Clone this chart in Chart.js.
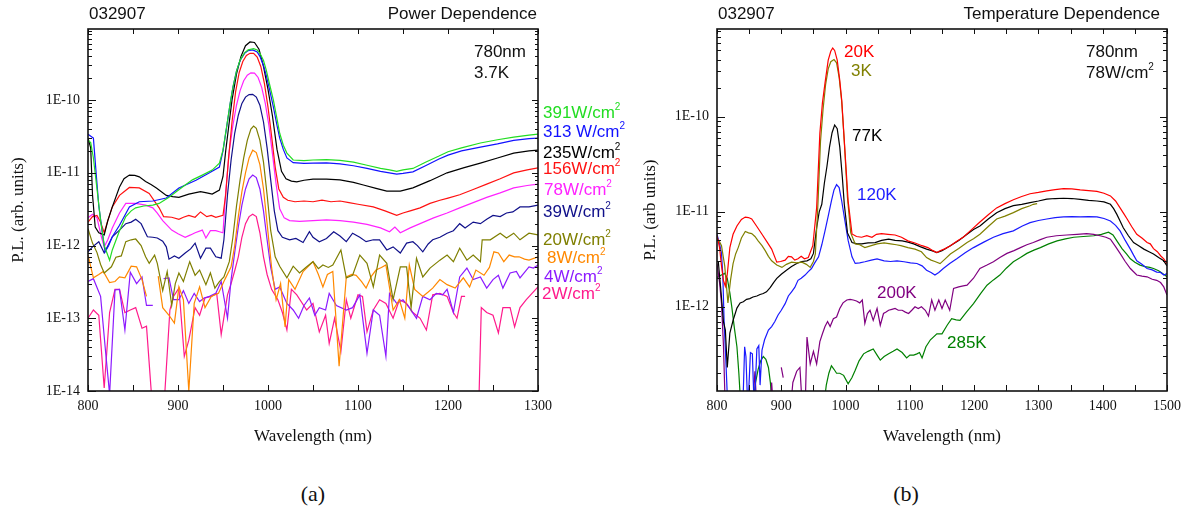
<!DOCTYPE html>
<html>
<head>
<meta charset="utf-8">
<title>PL power and temperature dependence</title>
<script src="https://cdn.jsdelivr.net/npm/chart.js@4.4.0/dist/chart.umd.min.js"></script>
<style>
  body { margin: 0; background: #fff; }
  #page { position: relative; width: 1194px; height: 519px; overflow: hidden; background: #fff; }
  canvas { position: absolute; top: 0; }
  .t { position: absolute; font: 17px "Liberation Sans", Arial, sans-serif; line-height: 20px; white-space: nowrap; color: #111; }
  .t sup { font-size: 10px; vertical-align: baseline; position: relative; top: -8px; }
  .cap { position: absolute; width: 60px; text-align: center; font: 22px "Liberation Serif", "Times New Roman", serif; line-height: 26px; color: #111; }
</style>
</head>
<body>
<div id="page">
  <canvas id="power" width="640" height="460" style="left:0"></canvas>
  <canvas id="temp" width="554" height="460" style="left:640px"></canvas>

  <div class="t" style="left:89px;top:4px">032907</div>
  <div class="t" style="right:657px;top:4px">Power Dependence</div>
  <div class="t" style="left:474px;top:42px">780nm</div>
  <div class="t" style="left:474px;top:63px">3.7K</div>

  <div class="t" style="left:543px;top:103px;color:#22dd22">391W/cm<sup>2</sup></div>
  <div class="t" style="left:543px;top:122px;color:#1111ff">313 W/cm<sup>2</sup></div>
  <div class="t" style="left:543px;top:143px;color:#000">235W/cm<sup>2</sup></div>
  <div class="t" style="left:543px;top:159px;color:#ff1111">156W/cm<sup>2</sup></div>
  <div class="t" style="left:544px;top:180px;color:#ff22ff">78W/cm<sup>2</sup></div>
  <div class="t" style="left:543px;top:202px;color:#10108a">39W/cm<sup>2</sup></div>
  <div class="t" style="left:543px;top:230px;color:#7f7f00">20W/cm<sup>2</sup></div>
  <div class="t" style="left:547px;top:248px;color:#ff8800">8W/cm<sup>2</sup></div>
  <div class="t" style="left:544px;top:267px;color:#8c1aff">4W/cm<sup>2</sup></div>
  <div class="t" style="left:542px;top:284px;color:#ff1a8c">2W/cm<sup>2</sup></div>

  <div class="t" style="left:718px;top:4px">032907</div>
  <div class="t" style="right:34px;top:4px">Temperature Dependence</div>
  <div class="t" style="left:1086px;top:42px">780nm</div>
  <div class="t" style="left:1086px;top:63px">78W/cm<sup>2</sup></div>

  <div class="t" style="left:844px;top:42px;color:#ff0000">20K</div>
  <div class="t" style="left:851px;top:61px;color:#808000">3K</div>
  <div class="t" style="left:852px;top:126px;color:#000">77K</div>
  <div class="t" style="left:857px;top:185px;color:#1a1aff">120K</div>
  <div class="t" style="left:877px;top:283px;color:#800080">200K</div>
  <div class="t" style="left:947px;top:333px;color:#008000">285K</div>

  <div class="cap" style="left:283px;top:481px">(a)</div>
  <div class="cap" style="left:876px;top:481px">(b)</div>
</div>

<script>
// ---- power series at 3.7 K: [wavelength nm, PL] ----
const p391 = [[800,2.8e-11],[803,2.6e-11],[806,1.6e-11],[810,6e-12],[814,2.2e-12],[818,1.0e-12],[824,6.3e-13],[827,8.7e-13],[835,1.6e-12],[842,2.5e-12],[848,3.0e-12],[853,3.3e-12],[862,3.5e-12],[872,3.6e-12],[879,3.8e-12],[890,4.6e-12],[898,5.5e-12],[905,6.4e-12],[916,8.0e-12],[927,9.3e-12],[938,1.09e-11],[946,1.36e-11],[950,2.05e-11],[954,4.3e-11],[958,9e-11],[961,1.5e-10],[965,2.5e-10],[969,3.55e-10],[974,4.5e-10],[978,4.9e-10],[984,5.1e-10],[988,4.9e-10],[991,4.4e-10],[995,3.5e-10],[998,2.6e-10],[1002,1.6e-10],[1006,1.0e-10],[1010,5.5e-11],[1013,3.5e-11],[1017,2.4e-11],[1021,1.87e-11],[1028,1.5e-11],[1040,1.47e-11],[1050,1.5e-11],[1065,1.52e-11],[1080,1.48e-11],[1095,1.4e-11],[1110,1.27e-11],[1125,1.15e-11],[1135,1.1e-11],[1143,1.05e-11],[1150,1.1e-11],[1161,1.15e-11],[1175,1.4e-11],[1190,1.7e-11],[1200,1.95e-11],[1215,2.2e-11],[1236,2.57e-11],[1255,2.85e-11],[1273,3.1e-11],[1290,3.3e-11],[1300,3.4e-11]];
const p313 = [[800,3.4e-11],[806,3.0e-11],[809,1.0e-11],[812,3.5e-12],[816,1.5e-12],[819,8.2e-13],[823,1.0e-12],[827,1.32e-12],[835,1.9e-12],[846,3.4e-12],[857,4.0e-12],[872,4.1e-12],[887,4.5e-12],[901,6.2e-12],[920,7.9e-12],[935,1.0e-11],[946,1.2e-11],[950,2.0e-11],[954,4.2e-11],[958,9e-11],[961,1.5e-10],[965,2.5e-10],[969,3.5e-10],[974,4.4e-10],[978,4.8e-10],[983,4.9e-10],[988,4.6e-10],[991,4.0e-10],[995,3.0e-10],[998,2.2e-10],[1002,1.35e-10],[1006,8e-11],[1010,4.5e-11],[1013,3.0e-11],[1017,2.1e-11],[1021,1.6e-11],[1028,1.38e-11],[1040,1.35e-11],[1050,1.36e-11],[1065,1.37e-11],[1080,1.33e-11],[1095,1.25e-11],[1110,1.15e-11],[1125,1.05e-11],[1143,9.6e-12],[1150,9.8e-12],[1161,1.03e-11],[1175,1.25e-11],[1190,1.55e-11],[1200,1.75e-11],[1215,2.0e-11],[1236,2.26e-11],[1255,2.5e-11],[1273,2.8e-11],[1290,2.95e-11],[1300,3.0e-11]];
const p235 = [[800,3.0e-11],[803,2.2e-11],[805,5e-12],[808,1.8e-12],[812,1.5e-12],[818,1.4e-12],[822,2.2e-12],[827,3.4e-12],[835,6.4e-12],[840,8.3e-12],[846,9.3e-12],[852,9.2e-12],[857,8.8e-12],[864,7.6e-12],[870,6.9e-12],[876,6.2e-12],[887,4.9e-12],[894,4.7e-12],[901,4.6e-12],[912,5.1e-12],[925,5.5e-12],[932,5.3e-12],[938,5.1e-12],[946,5.8e-12],[950,8.9e-12],[953,2.0e-11],[956,4e-11],[960,1.0e-10],[965,2.3e-10],[970,4.0e-10],[975,5.6e-10],[980,6.3e-10],[985,6.2e-10],[990,5.0e-10],[995,2.9e-10],[1000,1.4e-10],[1005,6e-11],[1010,2.1e-11],[1015,1.05e-11],[1020,8.3e-12],[1026,7.7e-12],[1032,7.5e-12],[1040,7.9e-12],[1050,8.2e-12],[1065,8.2e-12],[1080,8.0e-12],[1095,7.4e-12],[1106,6.8e-12],[1120,6.1e-12],[1132,5.6e-12],[1147,5.6e-12],[1161,6.2e-12],[1180,7.8e-12],[1199,1.0e-11],[1218,1.18e-11],[1236,1.36e-11],[1255,1.6e-11],[1273,1.87e-11],[1290,2.0e-11],[1300,2.05e-11]];
const p156 = [[800,2.1e-12],[805,2.5e-12],[810,2.6e-12],[814,2.1e-12],[818,1.5e-12],[822,2.2e-12],[827,3.4e-12],[835,4.9e-12],[846,6.3e-12],[857,6.2e-12],[868,5.2e-12],[879,3.3e-12],[884,2.5e-12],[893,2.45e-12],[901,2.3e-12],[906,2.45e-12],[912,2.6e-12],[919,2.45e-12],[925,2.9e-12],[932,2.5e-12],[937,2.6e-12],[942,2.45e-12],[950,2.6e-12],[953,5e-12],[956,1.5e-11],[960,5e-11],[964,1.3e-10],[968,2.4e-10],[972,3.4e-10],[976,4.1e-10],[980,4.4e-10],[984,4.4e-10],[988,3.9e-10],[992,2.9e-10],[996,1.7e-10],[1000,8e-11],[1004,3.2e-11],[1008,1.2e-11],[1012,6e-12],[1017,4.6e-12],[1022,4.2e-12],[1030,4.0e-12],[1040,4.1e-12],[1050,4.0e-12],[1060,4.2e-12],[1070,4.0e-12],[1080,4.1e-12],[1090,3.9e-12],[1100,3.7e-12],[1117,3.4e-12],[1130,3.0e-12],[1143,2.6e-12],[1150,2.8e-12],[1158,3.0e-12],[1169,3.3e-12],[1180,3.8e-12],[1191,4.2e-12],[1200,4.5e-12],[1213,5.0e-12],[1228,5.9e-12],[1243,7.0e-12],[1258,8.3e-12],[1273,1.0e-11],[1288,1.1e-11],[1300,1.17e-11]];
const p78 = [[800,2.4e-12],[805,2.7e-12],[810,2.4e-12],[815,1.3e-12],[818,9.6e-13],[822,1.2e-12],[827,1.74e-12],[835,2.8e-12],[842,3.8e-12],[853,3.8e-12],[864,3.6e-12],[872,3.3e-12],[877,2.8e-12],[883,2.2e-12],[893,1.63e-12],[900,1.45e-12],[908,1.3e-12],[914,1.4e-12],[919,1.5e-12],[927,1.63e-12],[931,1.27e-12],[936,1.6e-12],[942,1.6e-12],[946,1.55e-12],[950,1.5e-12],[953,5.5e-12],[957,2.0e-11],[961,4.5e-11],[965,8.5e-11],[969,1.35e-10],[973,1.85e-10],[977,2.2e-10],[981,2.37e-10],[985,2.35e-10],[989,2.05e-10],[993,1.5e-10],[997,9e-11],[1001,4.5e-11],[1005,1.8e-11],[1009,7e-12],[1013,3.2e-12],[1018,2.4e-12],[1024,2.2e-12],[1035,2.15e-12],[1050,2.2e-12],[1065,2.25e-12],[1080,2.2e-12],[1095,2.1e-12],[1110,1.95e-12],[1125,1.75e-12],[1135,1.55e-12],[1141,1.8e-12],[1147,1.5e-12],[1158,1.75e-12],[1169,2.0e-12],[1184,2.4e-12],[1199,2.8e-12],[1213,3.3e-12],[1228,3.9e-12],[1243,4.6e-12],[1258,5.3e-12],[1273,6.2e-12],[1288,6.7e-12],[1300,7.0e-12]];
const p39 = [[800,8.2e-13],[805,9.6e-13],[812,1.13e-12],[818,7.9e-13],[827,1.32e-12],[835,1.63e-12],[842,2.0e-12],[848,2.1e-12],[853,2.3e-12],[859,2.0e-12],[866,1.32e-12],[872,1.3e-12],[877,1.27e-12],[883,1.15e-12],[887,9.6e-13],[890,6.5e-13],[896,7.2e-13],[901,6.7e-13],[908,7.9e-13],[914,9e-13],[919,1.08e-12],[925,6.7e-13],[931,9.2e-13],[936,9.2e-13],[942,7.0e-13],[948,6.7e-13],[951,1.2e-12],[955,5e-12],[959,1.5e-11],[963,3.5e-11],[967,6.2e-11],[971,9e-11],[975,1.1e-10],[979,1.19e-10],[983,1.2e-10],[987,1.1e-10],[991,8.5e-11],[995,5e-11],[999,2.2e-11],[1003,8e-12],[1007,3e-12],[1011,1.6e-12],[1016,1.3e-12],[1024,1.2e-12],[1031,1.25e-12],[1039,1.1e-12],[1046,1.55e-12],[1050,1.3e-12],[1057,1.13e-12],[1065,1.25e-12],[1073,1.55e-12],[1080,1.35e-12],[1087,1.13e-12],[1094,1.48e-12],[1102,1.3e-12],[1109,1.13e-12],[1117,1.2e-12],[1124,1.2e-12],[1132,8.7e-13],[1139,9.6e-13],[1147,7.9e-13],[1154,1.08e-12],[1161,1.13e-12],[1166,1.0e-12],[1172,8.2e-13],[1178,1.05e-12],[1183,1.2e-12],[1191,1.3e-12],[1199,1.48e-12],[1206,1.6e-12],[1213,2.0e-12],[1219,1.74e-12],[1228,2.1e-12],[1236,2.0e-12],[1243,2.3e-12],[1250,2.6e-12],[1258,2.5e-12],[1265,2.8e-12],[1272,2.9e-12],[1280,3.4e-12],[1290,3.4e-12],[1300,3.6e-12]];
const p20 = [[800,1.7e-12],[805,1.08e-12],[810,8e-13],[814,5.5e-13],[818,4.2e-13],[826,5.1e-13],[831,6.9e-13],[837,7.2e-13],[842,1.13e-12],[848,1.2e-12],[853,1.23e-12],[859,1.0e-12],[864,7.0e-13],[868,5.7e-13],[874,7.4e-13],[877,5.7e-13],[883,2.4e-13],[888,4.4e-13],[893,1.5e-13],[897,3.0e-13],[901,4.2e-13],[906,3.2e-13],[913,6.0e-13],[919,3.9e-13],[924,4.6e-13],[931,2.9e-13],[936,4.2e-13],[941,2.6e-13],[946,3.2e-13],[951,3.7e-13],[957,6e-13],[961,1.3e-12],[965,3.5e-12],[969,8e-12],[973,1.6e-11],[977,2.8e-11],[981,4.0e-11],[984,4.4e-11],[987,4.1e-11],[991,2.8e-11],[995,1.4e-11],[999,5e-12],[1003,1.6e-12],[1008,7e-13],[1013,5.2e-13],[1021,3.6e-13],[1028,5.2e-13],[1035,4.2e-13],[1042,5.0e-13],[1050,6.0e-13],[1056,4.8e-13],[1061,5.4e-13],[1067,5.0e-13],[1072,5.4e-13],[1081,8.7e-13],[1087,3.6e-13],[1094,3.9e-13],[1102,7.4e-13],[1110,5.7e-13],[1117,2.7e-13],[1124,7.4e-13],[1132,5.7e-13],[1139,1.8e-13],[1147,5.1e-13],[1154,5.1e-13],[1159,1.4e-13],[1165,6.7e-13],[1172,3.7e-13],[1180,4.9e-13],[1191,6.3e-13],[1199,7.4e-13],[1206,6.0e-13],[1213,9.2e-13],[1221,6.3e-13],[1228,7.4e-13],[1236,6.0e-13],[1238,1.2e-12],[1247,1.2e-12],[1258,1.48e-12],[1265,1.27e-12],[1273,1.48e-12],[1280,1.2e-12],[1290,1.48e-12],[1300,1.4e-12]];
const p8 = [[800,7.4e-13],[806,3.6e-13],[812,4.0e-13],[817,4.4e-13],[824,3.1e-13],[830,3.2e-13],[835,3.7e-13],[841,3.6e-13],[848,5.2e-13],[854,5.1e-13],[860,3.4e-13],[865,2.0e-13],[871,null],[878,3.8e-13],[883,1.4e-13],[890,1.1e-13],[896,8.6e-14],[901,2.7e-13],[906,1.8e-13],[912,1.0e-14],[918,1.6e-13],[924,2.7e-13],[930,1.4e-13],[937,2.0e-13],[945,2.2e-13],[952,3.4e-13],[959,5.1e-13],[963,1.0e-12],[967,2.5e-12],[971,5.5e-12],[975,1.0e-11],[979,1.6e-11],[983,2.05e-11],[987,1.9e-11],[991,1.3e-11],[995,6e-12],[999,2.0e-12],[1004,5e-13],[1009,1.8e-13],[1014,3.0e-13],[1019,7.6e-14],[1023,3.4e-13],[1030,2.5e-13],[1039,4.4e-13],[1050,6.0e-13],[1056,4.0e-13],[1061,2.7e-13],[1066,4.0e-13],[1072,4.4e-13],[1079,2.2e-14],[1087,3.7e-13],[1093,4.0e-13],[1098,3.9e-13],[1104,3.2e-13],[1109,2.6e-13],[1115,3.8e-13],[1120,4.6e-13],[1126,5.0e-13],[1131,5.4e-13],[1139,1.3e-13],[1146,1.8e-13],[1152,1.0e-13],[1157,5.4e-13],[1163,2.5e-13],[1172,2.0e-13],[1178,2.3e-13],[1183,2.6e-13],[1191,3.4e-13],[1199,2.9e-13],[1208,2.6e-13],[1217,3.6e-13],[1224,2.7e-13],[1231,4.6e-13],[1240,3.9e-13],[1246,5.0e-13],[1251,8.2e-13],[1256,7.9e-13],[1262,6.0e-13],[1268,7.4e-13],[1274,7.0e-13],[1279,7.0e-13],[1285,6.5e-13],[1290,6.3e-13],[1300,7.0e-13]];
const p4 = [[800,3.2e-13],[806,3.5e-13],[814,2.0e-13],[819,4.1e-14],[824,9e-15],[830,2.45e-13],[835,2.5e-13],[841,6.9e-14],[847,4.3e-13],[854,3.0e-13],[860,3.7e-13],[865,1.5e-13],[872,1.5e-13],[878,null],[884,3.5e-13],[890,3.6e-13],[895,1.8e-13],[901,1.8e-13],[906,2.4e-13],[912,1.6e-13],[918,2.2e-13],[924,1.7e-13],[929,1.9e-13],[935,2.0e-13],[942,2.2e-13],[948,3.2e-13],[955,1.0e-13],[959,3.4e-13],[963,8e-13],[967,1.8e-12],[971,3.6e-12],[975,6.0e-12],[979,8.3e-12],[983,9.3e-12],[987,8.6e-12],[991,6.0e-12],[995,3.0e-12],[999,1.2e-12],[1003,5e-13],[1008,2.5e-13],[1013,2.7e-13],[1021,1.6e-13],[1028,1.3e-13],[1034,1.0e-13],[1040,1.5e-13],[1046,1.9e-13],[1052,1.1e-13],[1057,1.4e-13],[1064,1.3e-13],[1068,2.2e-13],[1076,1.5e-13],[1087,1.3e-13],[1094,1.4e-13],[1102,2.1e-13],[1110,3.3e-14],[1117,1.3e-13],[1124,1.1e-13],[1131,3.0e-14],[1135,2.2e-13],[1143,1.6e-13],[1150,1.8e-13],[1157,1.4e-13],[1165,1.0e-13],[1172,2.0e-13],[1180,1.8e-13],[1187,2.2e-13],[1194,2.1e-13],[1199,2.5e-13],[1206,1.2e-13],[1213,3.7e-13],[1221,4.9e-13],[1228,3.4e-13],[1236,3.7e-13],[1243,2.6e-13],[1250,3.4e-13],[1256,3.9e-13],[1261,2.6e-13],[1269,4.2e-13],[1276,4.4e-13],[1280,3.6e-13],[1290,5.1e-13],[1295,4.9e-13],[1300,5.4e-13]];
const p2 = [[800,1.0e-13],[806,1.3e-13],[812,1.1e-13],[818,1.1e-14],[824,1.2e-13],[830,2.5e-13],[835,2.5e-13],[841,1.2e-13],[847,1.3e-13],[853,1.4e-13],[860,7.3e-14],[865,7.8e-14],[872,5e-15],[884,5e-15],[891,1.3e-13],[895,2.0e-13],[901,2.6e-13],[907,3.0e-14],[912,5.0e-14],[919,1.4e-13],[924,1.1e-13],[930,1.9e-13],[937,2.0e-13],[943,2.2e-13],[948,6.0e-14],[955,2.1e-13],[959,3.0e-13],[963,4.5e-13],[967,7e-13],[971,1.3e-12],[975,2.0e-12],[979,2.5e-12],[983,2.7e-12],[987,2.5e-12],[991,1.5e-12],[995,7e-13],[999,4e-13],[1004,2.5e-13],[1011,1.8e-13],[1016,1.2e-13],[1021,6.9e-14],[1026,2.5e-13],[1032,2.1e-13],[1043,1.3e-13],[1050,1.6e-13],[1057,6.5e-14],[1064,1.1e-13],[1068,4.5e-14],[1074,1.0e-13],[1081,3.5e-14],[1087,1.8e-13],[1092,1.0e-13],[1100,2.1e-13],[1105,2.0e-13],[1110,6.5e-14],[1117,1.3e-13],[1124,1.8e-13],[1131,1.6e-13],[1139,1.0e-13],[1146,1.8e-13],[1154,1.6e-13],[1161,1.2e-13],[1169,1.0e-13],[1176,6.9e-14],[1183,2.1e-13],[1191,2.2e-13],[1199,2.0e-13],[1206,1.2e-13],[1210,1.0e-13],[1215,2.0e-13],[1219,2.0e-13],[1226,null],[1234,5e-15],[1237,1.4e-13],[1243,1.2e-13],[1250,1.1e-13],[1256,6.3e-14],[1261,1.4e-13],[1269,1.4e-13],[1274,7.6e-14],[1280,1.4e-13],[1287,1.8e-13],[1300,2.7e-13]];

// ---- temperature series at 78 W/cm2 ----
const t20 = [[800,5.6e-12],[804,4.2e-12],[807,2.7e-12],[810,1.9e-12],[813,1.65e-12],[816,2.2e-12],[820,4.2e-12],[825,5.8e-12],[831,7.1e-12],[838,8.3e-12],[844,8.8e-12],[849,8.7e-12],[854,8.4e-12],[862,7.0e-12],[870,5.8e-12],[878,4.8e-12],[885,4.05e-12],[893,2.95e-12],[899,3.0e-12],[906,3.1e-12],[911,3.4e-12],[916,3.36e-12],[921,3.1e-12],[926,3.2e-12],[931,3.4e-12],[936,3.2e-12],[942,3.3e-12],[949,4.4e-12],[955,1.1e-11],[960,6.7e-11],[964,1.4e-10],[968,2.26e-10],[973,3.95e-10],[977,4.9e-10],[980,5.3e-10],[983,5.0e-10],[987,3.95e-10],[991,2.4e-10],[994,1.5e-10],[999,4.4e-11],[1004,1.3e-11],[1010,5.85e-12],[1017,5.5e-12],[1025,5.4e-12],[1033,5.6e-12],[1041,5.4e-12],[1048,5.8e-12],[1056,5.9e-12],[1066,5.8e-12],[1077,5.7e-12],[1087,5.4e-12],[1097,4.95e-12],[1108,4.7e-12],[1119,4.4e-12],[1128,4.2e-12],[1136,3.9e-12],[1142,3.73e-12],[1147,3.9e-12],[1155,4.1e-12],[1163,4.4e-12],[1173,4.9e-12],[1183,5.4e-12],[1196,6.5e-12],[1209,7.8e-12],[1222,9.3e-12],[1235,1.1e-11],[1248,1.22e-11],[1261,1.34e-11],[1274,1.45e-11],[1287,1.55e-11],[1300,1.6e-11],[1313,1.66e-11],[1326,1.71e-11],[1339,1.75e-11],[1352,1.74e-11],[1365,1.7e-11],[1378,1.67e-11],[1391,1.64e-11],[1402,1.57e-11],[1412,1.47e-11],[1420,1.3e-11],[1427,1.1e-11],[1433,9.5e-12],[1438,8.4e-12],[1445,7.0e-12],[1453,5.8e-12],[1461,5.3e-12],[1469,4.75e-12],[1474,4.6e-12],[1479,4.1e-12],[1485,3.8e-12],[1490,3.45e-12],[1495,3.2e-12],[1500,2.85e-12]];
const t3 = [[800,5.15e-12],[803,5.0e-12],[807,4.4e-12],[812,2.7e-12],[817,1.1e-12],[821,1.9e-12],[825,2.85e-12],[829,3.6e-12],[833,4.2e-12],[838,5.3e-12],[844,6.2e-12],[849,6.0e-12],[854,5.9e-12],[859,5.5e-12],[864,4.95e-12],[870,4.4e-12],[875,3.9e-12],[880,3.4e-12],[885,3.05e-12],[893,2.75e-12],[901,2.6e-12],[908,2.8e-12],[916,2.95e-12],[924,2.9e-12],[932,2.95e-12],[939,2.8e-12],[945,2.6e-12],[950,3.0e-12],[953,3.6e-12],[957,1.2e-11],[961,5.5e-11],[965,1.2e-10],[969,2.2e-10],[973,3.2e-10],[977,3.8e-10],[982,4.0e-10],[986,3.7e-10],[990,2.6e-10],[994,1.45e-10],[998,5.5e-11],[1003,1.4e-11],[1008,6.0e-12],[1015,4.6e-12],[1022,4.5e-12],[1030,4.2e-12],[1040,4.4e-12],[1049,4.6e-12],[1060,4.7e-12],[1070,4.6e-12],[1079,4.5e-12],[1086,4.4e-12],[1097,4.2e-12],[1108,4.05e-12],[1118,3.8e-12],[1126,3.3e-12],[1133,3.1e-12],[1139,3.0e-12],[1147,2.85e-12],[1155,3.2e-12],[1163,3.6e-12],[1176,4.1e-12],[1189,4.75e-12],[1199,5.2e-12],[1209,5.8e-12],[1222,7.0e-12],[1235,8.4e-12],[1248,9.0e-12],[1261,9.8e-12],[1274,1.08e-11],[1287,1.16e-11],[1292,1.2e-11],[1298,1.22e-11]];
const t77 = [[802,3.0e-12],[806,1.5e-12],[810,7e-13],[813,5.7e-13],[816,2.3e-13],[820,5.3e-13],[825,7.2e-13],[831,9.7e-13],[836,1.1e-12],[841,1.13e-12],[846,1.2e-12],[851,1.22e-12],[856,1.27e-12],[862,1.3e-12],[867,1.35e-12],[872,1.38e-12],[877,1.44e-12],[883,1.6e-12],[888,1.8e-12],[893,1.99e-12],[900,2.2e-12],[908,2.43e-12],[916,2.65e-12],[924,2.86e-12],[932,3.0e-12],[940,3.05e-12],[946,3.2e-12],[950,3.65e-12],[955,6.8e-12],[959,1.0e-11],[963,1.2e-11],[967,2.0e-11],[971,3.0e-11],[975,4.8e-11],[979,6.8e-11],[983,8.2e-11],[987,7.5e-11],[991,4.8e-11],[995,2.3e-11],[998,1.2e-11],[1003,6e-12],[1010,4.75e-12],[1018,4.6e-12],[1025,4.6e-12],[1035,4.7e-12],[1046,4.75e-12],[1056,5.0e-12],[1067,5.15e-12],[1077,5.0e-12],[1088,4.95e-12],[1097,4.8e-12],[1106,4.6e-12],[1116,4.3e-12],[1126,4.05e-12],[1134,3.9e-12],[1142,3.73e-12],[1150,3.9e-12],[1163,4.4e-12],[1176,5.0e-12],[1189,5.8e-12],[1199,6.5e-12],[1209,7.1e-12],[1222,8.4e-12],[1235,9.8e-12],[1248,1.08e-11],[1261,1.16e-11],[1274,1.2e-11],[1287,1.25e-11],[1300,1.3e-11],[1313,1.36e-11],[1326,1.38e-11],[1339,1.39e-11],[1352,1.38e-11],[1365,1.35e-11],[1378,1.32e-11],[1391,1.3e-11],[1402,1.27e-11],[1412,1.2e-11],[1417,1.08e-11],[1422,9.4e-12],[1427,8.0e-12],[1432,6.8e-12],[1440,5.6e-12],[1448,4.75e-12],[1456,4.4e-12],[1464,4.05e-12],[1472,3.8e-12],[1479,3.6e-12],[1487,3.3e-12],[1495,3.05e-12],[1500,2.7e-12]];
const t120 = [[800,5.8e-12],[804,4.6e-12],[807,3.65e-12],[809,2.2e-12],[811,7.2e-13],[814,2.5e-13],[817,8e-14],[840,8e-14],[843,3.8e-13],[845,3.0e-13],[848,8e-14],[852,3.3e-13],[855,3.2e-13],[858,8e-14],[862,3.6e-13],[865,3.9e-13],[867,1.5e-13],[870,3.5e-13],[874,4.5e-13],[880,5.7e-13],[885,6.2e-13],[890,7.0e-13],[895,8.2e-13],[900,9.2e-13],[906,1.08e-12],[911,1.3e-12],[916,1.44e-12],[921,1.6e-12],[926,1.9e-12],[931,2.0e-12],[937,2.16e-12],[942,2.35e-12],[947,2.53e-12],[952,2.9e-12],[958,3.36e-12],[963,4.5e-12],[968,6.3e-12],[973,9e-12],[978,1.3e-11],[982,1.7e-11],[986,1.93e-11],[990,1.8e-11],[994,1.3e-11],[999,8e-12],[1004,5.0e-12],[1010,3.36e-12],[1015,2.86e-12],[1022,2.9e-12],[1030,2.98e-12],[1040,3.1e-12],[1049,3.2e-12],[1060,3.05e-12],[1070,3.0e-12],[1080,3.05e-12],[1091,2.98e-12],[1101,2.9e-12],[1111,2.86e-12],[1119,2.7e-12],[1126,2.43e-12],[1133,2.3e-12],[1139,2.16e-12],[1145,2.3e-12],[1152,2.53e-12],[1162,2.85e-12],[1173,3.2e-12],[1186,3.7e-12],[1199,4.2e-12],[1215,4.8e-12],[1230,5.4e-12],[1245,5.9e-12],[1261,6.3e-12],[1275,7.1e-12],[1287,7.7e-12],[1300,8.1e-12],[1313,8.4e-12],[1326,8.7e-12],[1339,8.85e-12],[1352,8.9e-12],[1365,8.85e-12],[1378,8.9e-12],[1391,8.85e-12],[1402,8.5e-12],[1412,8.0e-12],[1420,7.2e-12],[1427,6.3e-12],[1435,5.0e-12],[1443,4.05e-12],[1448,3.5e-12],[1453,3.05e-12],[1461,2.8e-12],[1469,2.53e-12],[1477,2.45e-12],[1484,2.32e-12],[1490,2.3e-12],[1495,2.16e-12],[1500,2.24e-12]];
const t200 = [[800,2.86e-12],[804,1.8e-12],[807,1.08e-12],[810,4e-13],[813,8e-14],[855,8e-14],[859,2.1e-13],[862,8e-14],[883,8e-14],[885,1.6e-13],[888,8e-14],[894,null],[900,2.3e-13],[903,1.8e-13],[908,null],[914,8e-14],[918,1.6e-13],[924,2.1e-13],[929,2.3e-13],[933,8e-14],[937,8e-14],[940,4.8e-13],[945,2.5e-13],[950,3.4e-13],[955,2.5e-13],[960,4.3e-13],[964,5.2e-13],[968,6.2e-13],[972,7.0e-13],[976,6.2e-13],[981,7.5e-13],[986,7.8e-13],[991,9.6e-13],[996,1.1e-12],[1002,1.18e-12],[1007,1.2e-12],[1012,1.18e-12],[1017,1.15e-12],[1022,1.1e-12],[1026,1.18e-12],[1030,6.7e-13],[1034,8.5e-13],[1038,9.2e-13],[1043,7.2e-13],[1049,9.6e-13],[1054,6.4e-13],[1059,8.5e-13],[1063,8.8e-13],[1067,9.2e-13],[1072,9.4e-13],[1077,9.6e-13],[1082,9.2e-13],[1088,9.2e-13],[1093,8.8e-13],[1098,8.5e-13],[1103,9.2e-13],[1108,1.0e-12],[1113,9.6e-13],[1118,1.0e-12],[1124,9.2e-13],[1129,8.0e-13],[1134,1.18e-12],[1139,9.2e-13],[1145,1.18e-12],[1150,9.6e-13],[1155,1.18e-12],[1162,9.2e-13],[1168,1.56e-12],[1176,1.62e-12],[1183,1.66e-12],[1189,1.69e-12],[1199,2.0e-12],[1209,2.53e-12],[1220,2.75e-12],[1230,2.98e-12],[1240,3.3e-12],[1251,3.65e-12],[1262,3.9e-12],[1272,4.2e-12],[1282,4.5e-12],[1292,4.75e-12],[1303,5.1e-12],[1313,5.4e-12],[1328,5.6e-12],[1344,5.7e-12],[1360,5.8e-12],[1375,5.9e-12],[1386,5.8e-12],[1396,5.6e-12],[1405,5.4e-12],[1412,5.15e-12],[1420,4.3e-12],[1427,3.65e-12],[1435,3.0e-12],[1443,2.53e-12],[1453,2.16e-12],[1461,2.1e-12],[1469,2.07e-12],[1477,1.95e-12],[1484,1.9e-12],[1490,1.8e-12],[1495,1.62e-12],[1500,1.33e-12]];
const t285 = [[800,2.04e-12],[806,2.15e-12],[812,2.25e-12],[816,1.99e-12],[820,1.4e-12],[823,1.0e-12],[827,6e-13],[831,3.8e-13],[834,2.0e-13],[837,9e-14],[856,9e-14],[860,1.6e-13],[864,2.2e-13],[868,2.7e-13],[872,3.0e-13],[876,2.8e-13],[880,2.3e-13],[883,1.6e-13],[886,9e-14],[966,9e-14],[970,1.5e-13],[974,2.0e-13],[978,2.4e-13],[982,2.2e-13],[986,2.0e-13],[991,2.0e-13],[997,1.9e-13],[1004,1.55e-13],[1010,1.8e-13],[1015,2.15e-13],[1021,2.7e-13],[1028,3.2e-13],[1035,3.4e-13],[1043,3.6e-13],[1049,3.1e-13],[1054,2.75e-13],[1060,3.0e-13],[1067,3.2e-13],[1074,3.4e-13],[1080,3.6e-13],[1088,3.3e-13],[1095,2.9e-13],[1100,3.1e-13],[1106,3.1e-13],[1111,3.2e-13],[1115,3.3e-13],[1119,2.9e-13],[1125,3.8e-13],[1132,4.5e-13],[1142,5.2e-13],[1150,5.2e-13],[1158,6.4e-13],[1165,7.5e-13],[1172,7.3e-13],[1178,7.2e-13],[1188,8.8e-13],[1199,1.08e-12],[1210,1.38e-12],[1220,1.69e-12],[1230,1.92e-12],[1240,2.16e-12],[1250,2.55e-12],[1261,2.98e-12],[1272,3.3e-12],[1282,3.65e-12],[1293,3.95e-12],[1303,4.2e-12],[1316,4.6e-12],[1329,4.95e-12],[1342,5.2e-12],[1355,5.4e-12],[1370,5.5e-12],[1386,5.6e-12],[1398,5.8e-12],[1409,6.1e-12],[1416,5.7e-12],[1422,4.95e-12],[1430,4.1e-12],[1437,3.6e-12],[1443,3.2e-12],[1450,2.95e-12],[1458,2.75e-12],[1466,2.65e-12],[1473,2.6e-12],[1479,2.53e-12],[1487,2.4e-12],[1493,2.25e-12],[1500,2.07e-12]];

// labelled decades on the PL axes
const powerDecades = [1e-14, 1e-13, 1e-12, 1e-11, 1e-10];
const tempDecades = [1e-12, 1e-11, 1e-10];

const powerSeries = [
  { data: p391, color: '#22dd22' }, { data: p313, color: '#1111ff' },
  { data: p235, color: '#000000' }, { data: p156, color: '#ff1111' },
  { data: p78, color: '#ff22ff' }, { data: p39, color: '#10108a' },
  { data: p20, color: '#7f7f00' }, { data: p8, color: '#ff8800' },
  { data: p4, color: '#8c1aff' }, { data: p2, color: '#ff1a8c' }
];
const tempSeries = [
  { data: t20, color: '#ff0000' }, { data: t3, color: '#808000' },
  { data: t77, color: '#000000' }, { data: t120, color: '#1a1aff' },
  { data: t200, color: '#800080' }, { data: t285, color: '#008000' }
];

const serif = '"Liberation Serif", "Times New Roman", serif';

// frame plus inward tick marks on all four sides
const frameTicks = {
  id: 'frameTicks',
  afterDatasetsDraw(chart, args, o) {
    const { ctx, chartArea: a, scales: { x, y } } = chart;
    ctx.save();
    ctx.strokeStyle = '#111';
    ctx.lineWidth = 1;
    ctx.beginPath();
    for (let v = x.min; v <= x.max; v += 50) {
      const px = Math.round(x.getPixelForValue(v)) + 0.5;
      ctx.moveTo(px, a.bottom); ctx.lineTo(px, a.bottom - o.xBottom);
      ctx.moveTo(px, a.top); ctx.lineTo(px, a.top + o.xTop);
    }
    const lo = Math.floor(Math.log10(y.min)), hi = Math.ceil(Math.log10(y.max));
    for (let e = lo; e <= hi; e++) {
      for (let m = 1; m <= 9; m++) {
        const v = m * Math.pow(10, e);
        if (v < y.min || v > y.max) continue;
        const py = Math.round(y.getPixelForValue(v)) + 0.5;
        const major = m === 1;
        ctx.moveTo(a.left, py); ctx.lineTo(a.left + (major ? o.leftMajor : o.leftMinor), py);
        ctx.moveTo(a.right, py); ctx.lineTo(a.right - (major ? o.rightMajor : o.rightMinor), py);
      }
    }
    ctx.stroke();
    ctx.lineWidth = 1.6;
    ctx.strokeRect(a.left, a.top, a.right - a.left, a.bottom - a.top);
    ctx.restore();
  }
};

function makePanel(id, series, cfg) {
  return new Chart(document.getElementById(id), {
    type: 'line',
    data: {
      datasets: series.map(s => ({
        data: s.data.map(([x, y]) => ({ x, y })),
        borderColor: s.color,
        borderWidth: 1.2,
        pointRadius: 0,
        tension: 0,
        spanGaps: false
      }))
    },
    options: {
      responsive: false,
      animation: false,
      layout: { padding: { left: 0, top: 29, right: cfg.padRight, bottom: 0 } },
      plugins: { legend: { display: false }, tooltip: { enabled: false }, frameTicks: cfg.ticks },
      scales: {
        x: {
          type: 'linear', min: cfg.xMin, max: cfg.xMax,
          grid: { display: false, drawTicks: false },
          border: { display: false },
          ticks: {
            stepSize: 100, padding: 7, color: '#111', maxRotation: 0,
            font: { family: serif, size: 14 },
            callback: v => String(v)
          },
          title: { display: true, text: 'Wavelength (nm)', color: '#111', font: { family: serif, size: 17 }, padding: { bottom: 13 } },
          afterFit: s => { s.height = 69; }
        },
        y: {
          type: 'logarithmic', min: cfg.yMin, max: cfg.yMax,
          grid: { display: false, drawTicks: false },
          border: { display: false },
          afterBuildTicks: s => { s.ticks = cfg.decades.map(v => ({ value: v })); },
          ticks: {
            padding: 8, color: '#111', autoSkip: false,
            font: { family: serif, size: 14 },
            callback: v => '1E' + Math.round(Math.log10(v))
          },
          title: { display: true, text: cfg.yTitle, color: '#111', font: { family: serif, size: 17 }, padding: { top: cfg.yTitlePad } },
          afterFit: s => { s.width = cfg.yWidth; }
        }
      }
    },
    plugins: [frameTicks]
  });
}

makePanel('power', powerSeries, {
  xMin: 800, xMax: 1300, yMin: 1e-14, yMax: 9.5e-10,
  decades: powerDecades, yTitle: 'P.L. (arb. units)', yTitlePad: 8,
  yWidth: 88, padRight: 102,
  ticks: { xTop: 5, xBottom: 6, leftMajor: 8, leftMinor: 4, rightMajor: 6, rightMinor: 3 }
});

makePanel('temp', tempSeries, {
  xMin: 800, xMax: 1500, yMin: 1.3e-13, yMax: 8.4e-10,
  decades: tempDecades, yTitle: 'P.L. (arb units)', yTitlePad: 0,
  yWidth: 77, padRight: 27,
  ticks: { xTop: 5, xBottom: 6, leftMajor: 8, leftMinor: 4, rightMajor: 7, rightMinor: 4 }
});
</script>
</body>
</html>
